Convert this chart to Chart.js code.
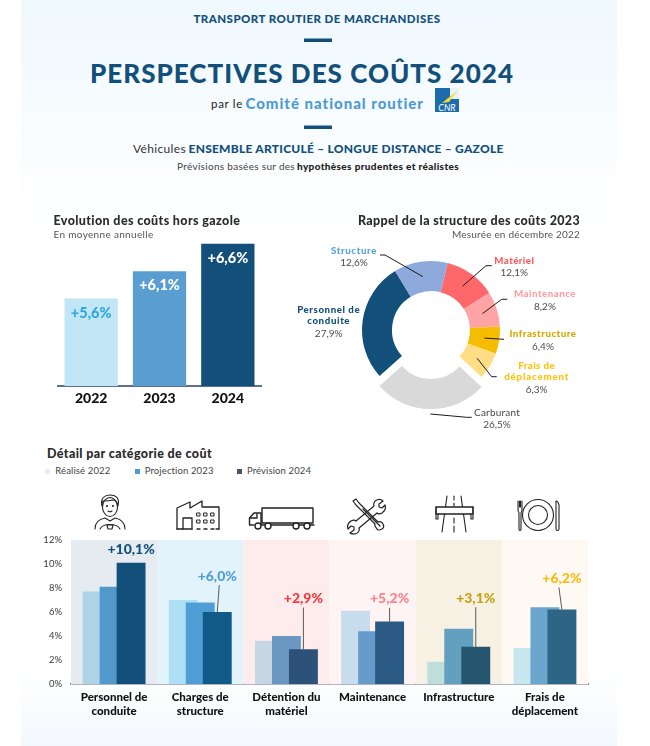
<!DOCTYPE html>
<html lang="fr"><head><meta charset="utf-8">
<script src="https://cdn.jsdelivr.net/npm/chart.js@4"></script>
<style>
html,body{margin:0;padding:0;background:#fff;overflow:hidden}
#page{position:relative;width:650px;height:746px;font-family:Lato,sans-serif;overflow:hidden}
#bg{position:absolute;left:21px;top:0;width:596px;height:746px;background:linear-gradient(#eff8fd 0,#fdfeff 205px,#fff 240px,#fff 670px,#f3f8fd 746px)}
.t{position:absolute;white-space:nowrap;line-height:1}
.c{transform:translate(-50%,-50%)}.l{transform:translateY(-50%)}.r{transform:translate(-100%,-50%)}
canvas{position:absolute}
.sq{position:absolute;width:5px;height:5px}
b{font-weight:900}
svg{position:absolute;left:0;top:0}
</style></head><body><div id="page"><div id="bg"></div>
<svg width="650" height="746" fill="none" stroke="#222" stroke-width="1.1" stroke-linecap="round" stroke-linejoin="round">
 <rect x="304" y="38.5" width="28" height="3.5" fill="#12507b" stroke="none"/>
 <rect x="304" y="125.5" width="28" height="3.5" fill="#12507b" stroke="none"/>
 <g><rect x="435" y="88" width="24" height="24" fill="#1c6cab" stroke="none"/>
  <rect x="450" y="88" width="9" height="11" fill="#e9f2f9" stroke="none"/>
  <path d="M458 90 L442 103 L449 102 Z" fill="#f4d93a" stroke="none"/>
  <text x="447" y="110.5" text-anchor="middle" font-family="Lato" font-size="9" font-style="italic" fill="#fff" stroke="none">CNR</text></g>
 <!-- personnel -->
 <g><ellipse cx="110" cy="507" rx="7.5" ry="9.5"/><path d="M102 506c-2-8 3-11 8-11s10 2 8 11c-1-4-3-6-5-6-4 1-9 1-10 1-1 1-1 3-1 5z"/>
 <path d="M95 529c0-8 5-10 10-11l5 3 5-3c5 1 10 3 10 11"/><path d="M100 529c3-6 17-6 20 0"/><path d="M107 525h6l-1 4h-4z"/>
 <circle cx="107" cy="506" r=".5"/><circle cx="113" cy="506" r=".5"/><path d="M108 511q2 1.500 4 0"/></g>
 <!-- usine -->
 <g stroke-width="1.3"><path d="M177 529V508L190 502V508L202 501V507H219V529"/><path d="M177 529H192"/><path d="M183 529V518H192V529"/><path d="M197 529h3M204 529h3M211 529h3M216 529h3"/>
 <g stroke-width="1"><rect x="197" y="513" width="3" height="3"/><rect x="204" y="513" width="3" height="3"/><rect x="211" y="513" width="3" height="3"/><rect x="197" y="520" width="3" height="3"/><rect x="204" y="520" width="3" height="3"/><rect x="211" y="520" width="3" height="3"/></g></g>
 <!-- camion -->
 <g stroke-width="1.4"><rect x="262" y="508" width="51" height="15"/><path d="M261 525V513H254L249.500 518V525H254M262 525H314"/><path d="M250 518H257V514"/>
 <g fill="#fff"><circle cx="258" cy="526" r="3"/><circle cx="268" cy="526" r="3"/><circle cx="296" cy="526" r="3"/><circle cx="307" cy="526" r="3"/></g></g>
 <!-- outils -->
 <g stroke-width="1.2"><path d="M353 501l3-2 3 4 19 19c2-1 4 0 5 2s1 4-1 5-4 2-5 0-3-3-2-5l-19-19z"/><path d="M363 509l17 17"/>
 <path d="M375 501c3-2 6-2 8 0l-4 3 0 3 3 1 3-3c1 3 0 6-3 8-2 1-4 1-5 0l-18 15c1 3-1 5-4 6-2 0-4 0-5-1l4-3 0-3-3-1-3 3c-1-3 0-6 3-8 2-1 4-1 5 0l18-15c-1-2 0-3 1-5z"/></g>
 <!-- route -->
 <g stroke-width="1.1"><path d="M447 496L442 532M461 496L466 532"/><path d="M454 496v4M454 503v3M454 518v5M454 526v6"/><rect x="436" y="507" width="37" height="7" fill="#fff" stroke-width="1.3"/><path d="M436 507v12h2v-5M473 507v12h-2v-5"/></g>
 <!-- couvert -->
 <g stroke-width="1.1"><circle cx="538" cy="515" r="15.500"/><circle cx="538" cy="515" r="9.500"/>
 <path d="M518 501v9c0 2 1 2 1 3v16c0 2 2 2 2 0v-16c0-1 1-1 1-3v-9M519.500 501v6M520.500 501v6"/><path d="M556 501c2 0 2 1 3 4v24c0 2-3 2-3 0z"/></g>
</svg>
<canvas id="evo" width="205" height="194" style="left:57px;top:222px"></canvas>
<canvas id="donut" width="180" height="180" style="left:341px;top:240px"></canvas>
<canvas id="detail" width="560" height="195" style="left:30px;top:530px"></canvas>
<div id="txt"></div></div>
<script>
// --- données ---
const evoYears = ['2022','2023','2024'];
const evoValues = [5.6,6.1,6.6];
const evoLabels = ['+5,6%','+6,1%','+6,6%'];
const evoColors = ['#c2e6f5','#5a9ed1','#12507b'];
const evoLabelColors = ['#2fa8dc','#ffffff','#ffffff'];

const structNames = ['Matériel','Maintenance','Infrastructure','Frais de déplacement','Carburant','Personnel de conduite','Structure'];
const structValues = [12.1,8.2,6.4,6.3,26.5,27.9,12.6];
const structColors = ['#ff686b','#ffa3a5','#f6bd00','#ffdd85','#d9d9d9','#12507b','#8ea9db'];

const categories = [['Personnel de','conduite'],['Charges de','structure'],['Détention du','matériel'],['Maintenance'],['Infrastructure'],['Frais de','déplacement']];
const realise2022 = [7.7,7.0,3.6,6.1,1.85,3.0];
const projection2023 = [8.1,6.8,4.0,4.4,4.6,6.4];
const prevision2024 = [10.1,6.0,2.9,5.2,3.1,6.2];
const detailLabels = ['+10,1%','+6,0%','+2,9%','+5,2%','+3,1%','+6,2%'];
const yTicks = [0,2,4,6,8,10,12];

// --- styles ---
const colors2022 = ['#aed3e6','#ade0f6','#c8d6e4','#c7dced','#bfddda','#c8e6ee'];
const colors2023 = ['#5299cb','#4f9fd6','#6b98c3','#669ccc','#639fbf','#6ba6cf'];
const colors2024 = ['#12507b','#125b88','#2d5178','#2b5a85','#26566f','#2c6585'];
const bandColors = ['#e6ebf2','#e2f3fb','#feecec','#fff3f3','#f7f1e3','#fefaf3'];
const detailLabelColors = ['#12507b','#4f9fd6','#f6383c','#ff8087','#c8a010','#f9bb10'];
const detailLabelLevels = [11.23,9.0,7.12,7.1,7.15,8.8];
const leaderTilt = [null,2,0,0,0,-3];
const AXIS='#5f7089';
const FONT='Lato, sans-serif';
Chart.defaults.font.family=FONT;

const evoChart=new Chart(document.getElementById('evo'),{type:'bar',
 data:{labels:evoYears,datasets:[{data:evoValues,backgroundColor:evoColors,barPercentage:.78,categoryPercentage:1}]},
 options:{responsive:false,animation:false,devicePixelRatio:1,layout:{padding:0},
  plugins:{legend:{display:false},tooltip:{enabled:false}},
  scales:{y:{display:false,min:4,max:7},
   x:{afterFit(s){s.height=30},grid:{display:false,drawTicks:false},border:{color:AXIS,width:2},
      ticks:{color:'#111',font:{size:14,weight:'900'},padding:4,maxRotation:0}}}},
 plugins:[{id:'inlab',afterDatasetsDraw(c){const x=c.ctx,m=c.getDatasetMeta(0);x.save();x.textAlign='center';x.textBaseline='middle';x.font='900 14.5px '+FONT;
   m.data.forEach((b,i)=>{x.fillStyle=evoLabelColors[i];x.fillText(evoLabels[i],b.x,b.y+14.5)});x.restore()}}]});

// traits de rappel du donut : coudes et extrémités, en px de la page
const ORGX=341,ORGY=240;
const elbows=[[[486,265.7],[491.7,265.7]],[[501.7,299.3],[507.3,299.3]],[[504,339.3]],[[491.7,376.7],[496.7,376.7]],[[466.7,417.3],[471.7,417.3]],[],[[385,255],[380,255]]];
const structOffset=[0,0,0,0,40,0,0];
const donutChart=new Chart(document.getElementById('donut'),{type:'doughnut',
 data:{labels:structNames,datasets:[{data:structValues,backgroundColor:structColors,borderWidth:0,offset:structOffset}]},
 options:{responsive:false,animation:false,devicePixelRatio:1,rotation:14,cutout:'56.5%',radius:69,layout:{padding:0},
  plugins:{legend:{display:false},tooltip:{enabled:false}}},
 plugins:[{id:'leaders',afterDatasetsDraw(c){const x=c.ctx,m=c.getDatasetMeta(0);x.save();x.strokeStyle='#1a1a1a';x.lineWidth=1;
  m.data.forEach((a,i)=>{if(!elbows[i].length)return;const p=a.getCenterPoint();const mid=(a.startAngle+a.endAngle)/2;
   const sx=p.x+Math.cos(mid)*structOffset[i]/4,sy=p.y+Math.sin(mid)*structOffset[i]/4;
   x.beginPath();x.moveTo(sx,sy);elbows[i].forEach(q=>x.lineTo(q[0]-ORGX,q[1]-ORGY));x.stroke()});x.restore()}}]});

const detailChart=new Chart(document.getElementById('detail'),{type:'bar',
 data:{labels:categories,datasets:[
  {label:'Réalisé 2022',data:realise2022,backgroundColor:colors2022},
  {label:'Projection 2023',data:projection2023,backgroundColor:colors2023},
  {label:'Prévision 2024',data:prevision2024,backgroundColor:colors2024}]},
 options:{responsive:false,animation:false,devicePixelRatio:1,layout:{padding:{top:10,right:2,left:0,bottom:0}},
  datasets:{bar:{categoryPercentage:.592,barPercentage:1.7}},
  plugins:{legend:{display:false},tooltip:{enabled:false}},
  scales:{
   y:{min:0,max:12,afterFit(s){s.width=41;s.paddingTop=0;s.paddingBottom=0},afterBuildTicks(s){s.ticks=yTicks.map(v=>({value:v}))},grid:{display:false,drawTicks:false},border:{display:false},
      ticks:{color:'#3a3a3a',font:{size:9.5},padding:9,callback:v=>v+'%'}},
   x:{afterFit(s){s.height=41},grid:{display:false,drawTicks:false},border:{color:AXIS,width:1.5},
      ticks:{color:'#111',font:{size:11.5,weight:'900'},padding:6.5,maxRotation:0,autoSkip:false}}}},
 plugins:[{id:'layers',beforeDatasetsDraw(c){const x=c.ctx,s=c.scales.x,y=c.scales.y,a=c.chartArea,w=a.width/bandColors.length;x.save();
   bandColors.forEach((col,i)=>{x.fillStyle=col;x.fillRect(s.getPixelForTick(i)-w/2,a.top,w,a.bottom-a.top)});x.restore();
   // barres dessinées de 2022 à 2024 : la plus récente passe devant
   const metas=c.getSortedVisibleDatasetMetas();metas.forEach(m=>m.controller.draw());
   x.save();metas[2].data.forEach((b,i)=>{const ty=y.getPixelForValue(detailLabelLevels[i]);
    if(leaderTilt[i]!==null){x.strokeStyle='rgba(40,40,40,.75)';x.lineWidth=1;x.beginPath();x.moveTo(b.x+leaderTilt[i],ty+9);x.lineTo(b.x,b.y);x.stroke()}
    x.fillStyle=detailLabelColors[i];x.font='900 14px '+FONT;x.textAlign='center';x.textBaseline='middle';x.fillText(detailLabels[i],b.x,ty)});x.restore();
   return false}}]});

// --- textes ---
const DK='#12507b',MID='#4f9bd3',G='#4d4d4d';
const texts=[
 [317,19,'c','<b>TRANSPORT ROUTIER DE MARCHANDISES</b>',`font-size:11.5px;color:${DK}`,247],
 [302,73,'c','<b>PERSPECTIVES DES COÛTS 2024</b>',`font-size:26px;color:${DK}`,424],
 [211,104,'l','par le',`font-size:11.5px;color:#222`,32],
 [245.500,103,'l','<b>Comité national routier</b>',`font-size:15px;color:${MID}`,179],
 [133,149,'l','Véhicules',`font-size:12px;color:#333`,53],
 [188.500,149,'l','<b>ENSEMBLE ARTICULÉ – LONGUE DISTANCE – GAZOLE</b>',`font-size:12px;color:${DK}`,315],
 [177,166,'l','Prévisions basées sur des',`font-size:10px;color:#444`,118],
 [297,166,'l','<b>hypothèses prudentes et réalistes</b>',`font-size:10px;color:#222`,162],
 [53.500,221,'l','<b>Evolution des coûts hors gazole</b>',`font-size:12.5px;color:#2b2b2b`,187],
 [53.500,234,'l','En moyenne annuelle',`font-size:10px;color:#555`,100],
 [580,221,'r','<b>Rappel de la structure des coûts 2023</b>',`font-size:12.5px;color:#2b2b2b`,222],
 [580,234,'r','Mesurée en décembre 2022',`font-size:10px;color:#555`,128],
 [47,453.500,'l','<b>Détail par catégorie de coût</b>',`font-size:12.5px;color:#2b2b2b`,165],
 [55.300,471,'l','Réalisé 2022',`font-size:9.5px;color:#444`,55],
 [144.700,471,'l','Projection 2023',`font-size:9.5px;color:#444`,69],
 [247,471,'l','Prévision 2024',`font-size:9.5px;color:#444`,64],
 [354,250.700,'c','<b>Structure</b>',`font-size:9.7px;color:#5ba3d8`,46],
 [354,262,'c','12,6%',`font-size:10px;color:${G}`,0],
 [514.300,260.700,'c','<b>Matériel</b>',`font-size:9.7px;color:#ff5a5f`,40],
 [514.300,271.700,'c','12,1%',`font-size:10px;color:${G}`,0],
 [545,293.700,'c','<b>Maintenance</b>',`font-size:9.7px;color:#ff9ea2`,62],
 [545,305.700,'c','8,2%',`font-size:10px;color:${G}`,0],
 [543,333.700,'c','<b>Infrastructure</b>',`font-size:9.7px;color:#d9a800`,67],
 [543,345.700,'c','6,4%',`font-size:10px;color:${G}`,0],
 [536.700,365.700,'c','<b>Frais de</b>',`font-size:9.7px;color:#ffc20e`,37],
 [536.700,376.700,'c','<b>déplacement</b>',`font-size:9.7px;color:#ffc20e`,65],
 [536.700,388.700,'c','6,3%',`font-size:10px;color:${G}`,0],
 [497,411.700,'c','Carburant',`font-size:10px;color:#444`,46],
 [497,424,'c','26,5%',`font-size:10px;color:${G}`,0],
 [328.700,310,'c','<b>Personnel de</b>',`font-size:9.7px;color:${DK}`,63],
 [328.700,320.700,'c','<b>conduite</b>',`font-size:9.7px;color:${DK}`,43],
 [328.700,332.700,'c','27,9%',`font-size:10px;color:${G}`,0],
];
const box=document.getElementById('txt');
texts.forEach(([x,y,a,h,s,w])=>{const d=document.createElement('div');d.className='t '+a;d.style.cssText=`left:${x}px;top:${y}px;`+s;d.innerHTML=h;box.appendChild(d);
 if(w){const n=d.textContent.length,cur=d.getBoundingClientRect().width;d.style.letterSpacing=((w-cur)/n).toFixed(3)+'px';}});
[[45,'#e6edf4'],[135,'#5499cc'],[237,'#44546a']].forEach(([x,c])=>{const d=document.createElement('div');d.className='sq';d.style.cssText=`left:${x}px;top:468.500px;background:${c}`;box.appendChild(d)});
</script></body></html>
